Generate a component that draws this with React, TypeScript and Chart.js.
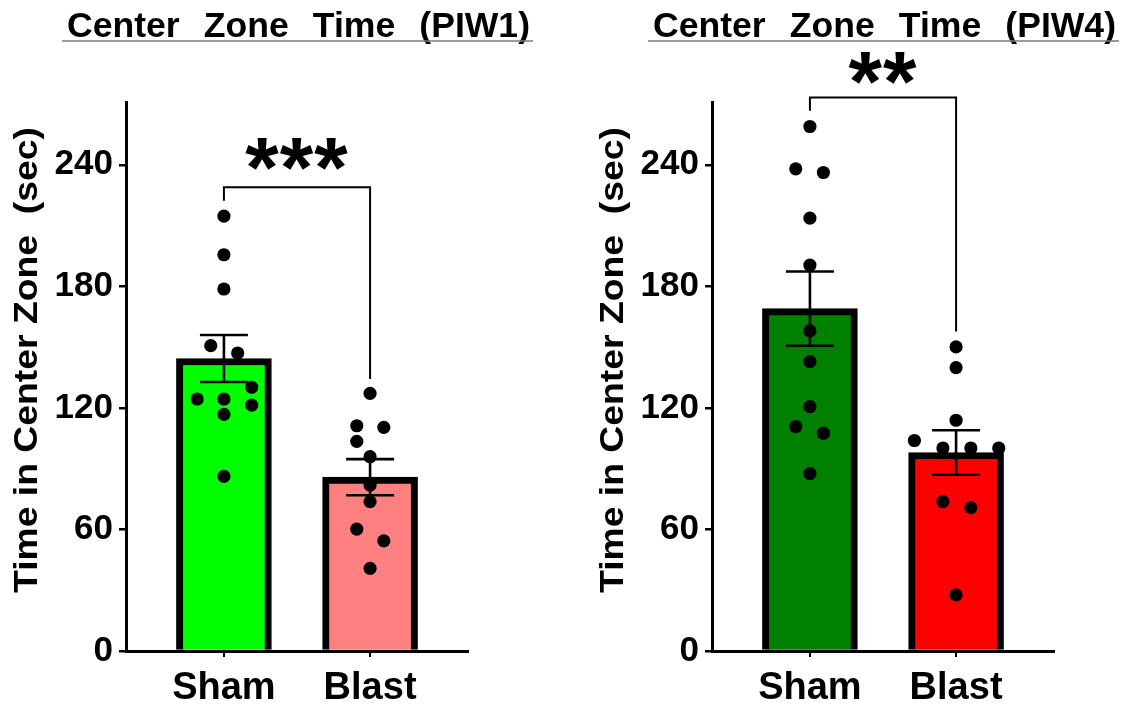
import { useEffect, useRef } from 'react';
import { Chart, registerables } from 'chart.js';

Chart.register(...registerables);

const FONT = '"Liberation Sans", Arial, Helvetica, sans-serif';

// ---------- data ----------
const categories = ['Sham', 'Blast'];
const yTicks = [0, 60, 120, 180, 240];
const yMax = 271;
const yTitle = 'Time in Center Zone  (sec)';

// PIW1
const piw1Title = 'Center Zone Time (PIW1)';
const piw1Means = [144.4, 85.8];
const piw1Sems = [11.6, 8.9];
const piw1ShamValues = [214.7, 195.6, 178.7, 150.7, 147.1, 130.2, 124.4, 124.4, 121.4, 116.8, 86.2];
const piw1ShamJitter = [0, 0, 0, -0.09, 0.094, 0.19, -0.183, 0, 0.19, 0, 0];
const piw1BlastValues = [127.2, 111.2, 110.4, 103.5, 95.9, 81.9, 73.7, 60.2, 54.4, 40.8];
const piw1BlastJitter = [0, -0.091, 0.094, -0.091, 0, 0, 0, -0.091, 0.094, 0];
const piw1Colors = ['#00FF00', '#FF8080'];
const piw1Stars = '***';
const piw1BracketTop = 228.9;
const piw1BracketEnds = [222.3, 134.3];
const piw1StarsY = 245.2;

// PIW4
const piw4Title = 'Center Zone Time (PIW4)';
const piw4Means = [169.0, 98.0];
const piw4Sems = [18.3, 11.0];
const piw4ShamValues = [258.9, 238.0, 236.2, 213.7, 190.5, 158.0, 142.9, 120.6, 110.8, 107.5, 87.6];
const piw4ShamJitter = [0, -0.097, 0.092, 0, 0, 0, 0, 0, -0.097, 0.092, 0];
const piw4BlastValues = [150.1, 139.9, 113.9, 103.9, 100.2, 100.2, 100.2, 73.7, 70.8, 27.7];
const piw4BlastJitter = [0, 0, 0, -0.285, -0.09, 0.101, 0.292, -0.09, 0.101, 0];
const piw4Colors = ['#008000', '#FF0000'];
const piw4Stars = '**';
const piw4BracketTop = 273.2;
const piw4BracketEnds = [266.7, 157.7];
const piw4StarsY = 288.0;

// ---------- layout ----------
const CW = 545;
const CH = 707;
const AREA_LEFT = 126;
const AREA_RIGHT = 468;
const AREA_TOP = 102;
const AREA_BOTTOM = 651;
const X_AXIS_H = 20;

type PanelProps = {
  left: number;
  title: string;
  means: number[];
  sems: number[];
  groups: number[][];
  jitters: number[][];
  colors: string[];
  stars: string;
  starsY: number;
  bracketTop: number;
  bracketEnds: number[];
};

function fitScale(
  ctx: CanvasRenderingContext2D,
  text: string,
  font: string,
  targetW: number,
  wordSpacing: string,
) {
  ctx.font = font;
  try {
    (ctx as any).wordSpacing = wordSpacing;
  } catch (e) {
    /* ignore */
  }
  const w = ctx.measureText(text).width;
  return targetW / w;
}

function Panel(props: PanelProps) {
  const ref = useRef<HTMLCanvasElement | null>(null);

  useEffect(() => {
    const canvas = ref.current;
    if (!canvas) return;
    const { title, means, sems, groups, jitters, colors, stars, starsY, bracketTop, bracketEnds } = props;

    const points: { x: number; y: number }[] = [];
    groups.forEach((vals, gi) => {
      vals.forEach((v, i) => points.push({ x: gi + jitters[gi][i], y: v }));
    });

    const decor = {
      id: 'decor',
      afterDatasetsDraw(chart: any) {
        const ctx: CanvasRenderingContext2D = chart.ctx;
        const xs = chart.scales.x;
        const ys = chart.scales.y;
        ctx.save();
        // error bars
        ctx.strokeStyle = '#000';
        ctx.lineWidth = 2.6;
        ctx.lineCap = 'butt';
        means.forEach((m, i) => {
          const x = xs.getPixelForValue(i);
          const yt = ys.getPixelForValue(m + sems[i]);
          const yb = ys.getPixelForValue(m - sems[i]);
          ctx.beginPath();
          ctx.moveTo(x, yt);
          ctx.lineTo(x, yb);
          ctx.moveTo(x - 24, yt);
          ctx.lineTo(x + 24, yt);
          ctx.moveTo(x - 24, yb);
          ctx.lineTo(x + 24, yb);
          ctx.stroke();
        });
        // significance bracket
        const x0 = xs.getPixelForValue(0);
        const x1 = xs.getPixelForValue(1);
        const yTop = ys.getPixelForValue(bracketTop);
        ctx.lineWidth = 2;
        ctx.lineJoin = 'miter';
        ctx.beginPath();
        ctx.moveTo(x0, ys.getPixelForValue(bracketEnds[0]));
        ctx.lineTo(x0, yTop);
        ctx.lineTo(x1, yTop);
        ctx.lineTo(x1, ys.getPixelForValue(bracketEnds[1]));
        ctx.stroke();
        ctx.restore();
      },
      afterDraw(chart: any) {
        const ctx: CanvasRenderingContext2D = chart.ctx;
        const xs = chart.scales.x;
        const ys = chart.scales.y;

        // title
        ctx.save();
        ctx.fillStyle = '#000';
        ctx.textAlign = 'left';
        ctx.textBaseline = 'alphabetic';
        const tScale = fitScale(ctx, title, `bold 35px ${FONT}`, 463, '14px');
        ctx.translate(67, 37);
        ctx.scale(tScale, 1);
        ctx.fillText(title, 0, 0);
        ctx.restore();

        // title underline
        ctx.save();
        ctx.strokeStyle = '#7a7a7a';
        ctx.lineWidth = 1.4;
        ctx.beginPath();
        ctx.moveTo(62, 41);
        ctx.lineTo(533, 41);
        ctx.stroke();
        ctx.restore();

        // y axis title
        ctx.save();
        ctx.fillStyle = '#000';
        ctx.textAlign = 'center';
        ctx.textBaseline = 'alphabetic';
        const yScale = fitScale(ctx, yTitle, `bold 34px ${FONT}`, 466, '0px');
        ctx.translate(36.7, 360);
        ctx.rotate(-Math.PI / 2);
        ctx.scale(yScale, 1);
        ctx.fillText(yTitle, 0, 0);
        ctx.restore();

        // x category labels
        ctx.save();
        ctx.fillStyle = '#000';
        ctx.font = `bold 38px ${FONT}`;
        ctx.textAlign = 'center';
        ctx.textBaseline = 'alphabetic';
        categories.forEach((c, i) => {
          ctx.fillText(c, xs.getPixelForValue(i), 699);
        });
        ctx.restore();

        // stars
        ctx.save();
        ctx.fillStyle = '#000';
        ctx.font = `bold 86px ${FONT}`;
        try {
          (ctx as any).letterSpacing = '1px';
        } catch (e) {
          /* ignore */
        }
        ctx.textAlign = 'center';
        ctx.textBaseline = 'alphabetic';
        const m = ctx.measureText(stars);
        const A = m.actualBoundingBoxAscent;
        const D = m.actualBoundingBoxDescent;
        const cy = ys.getPixelForValue(starsY);
        const cx = (xs.getPixelForValue(0) + xs.getPixelForValue(1)) / 2;
        ctx.fillText(stars, cx, cy + (A - D) / 2);
        ctx.restore();
      },
    };

    const chart = new Chart(canvas, {
      type: 'bar',
      data: {
        datasets: [
          {
            type: 'scatter',
            data: points,
            backgroundColor: '#000',
            borderColor: '#000',
            pointBackgroundColor: '#000',
            pointBorderWidth: 0,
            pointRadius: 6.6,
            pointHoverRadius: 6.6,
            order: 1,
          } as any,
          {
            type: 'bar',
            data: means.map((m, i) => ({ x: i, y: m })),
            backgroundColor: colors,
            borderColor: '#000',
            borderWidth: 7,
            borderSkipped: 'start',
            barThickness: 95,
            order: 2,
          } as any,
        ],
      },
      options: {
        responsive: false,
        animation: false,
        devicePixelRatio: 1,
        events: [],
        layout: {
          padding: {
            left: 0,
            top: AREA_TOP,
            right: CW - AREA_RIGHT,
            bottom: CH - AREA_BOTTOM - X_AXIS_H,
          },
        },
        plugins: {
          legend: { display: false },
          tooltip: { enabled: false },
          title: { display: false },
        },
        scales: {
          x: {
            type: 'linear',
            offset: false,
            min: -0.67,
            max: 1.67,
            afterBuildTicks: (s: any) => {
              s.ticks = categories.map((_, i) => ({ value: i }));
            },
            afterFit: (s: any) => {
              s.height = X_AXIS_H;
            },
            ticks: { display: false },
            grid: {
              display: true,
              offset: false,
              drawOnChartArea: false,
              drawTicks: true,
              tickLength: 6,
              color: '#000',
              lineWidth: 2,
            },
            border: { display: true, color: '#000', width: 3, z: 1 },
          },
          y: {
            type: 'linear',
            min: 0,
            max: yMax,
            afterBuildTicks: (s: any) => {
              s.ticks = yTicks.map((v) => ({ value: v }));
            },
            afterFit: (s: any) => {
              s.width = AREA_LEFT;
            },
            ticks: {
              color: '#000',
              padding: 6,
              font: { family: FONT, size: 35, weight: 'bold' },
            },
            grid: {
              display: true,
              drawOnChartArea: false,
              drawTicks: true,
              tickLength: 7,
              color: '#000',
              lineWidth: 2.5,
            },
            border: { display: true, color: '#000', width: 3 },
          },
        },
      } as any,
      plugins: [decor as any],
    });

    return () => {
      chart.destroy();
    };
  }, []);

  return (
    <canvas
      ref={ref}
      width={CW}
      height={CH}
      style={{ position: 'absolute', left: props.left, top: 0, width: CW, height: CH }}
    />
  );
}

export default function App() {
  return (
    <div
      style={{
        position: 'absolute',
        left: 0,
        top: 0,
        width: 1131,
        height: 707,
        overflow: 'hidden',
        background: '#fff',
      }}
    >
      <Panel
        left={0}
        title={piw1Title}
        means={piw1Means}
        sems={piw1Sems}
        groups={[piw1ShamValues, piw1BlastValues]}
        jitters={[piw1ShamJitter, piw1BlastJitter]}
        colors={piw1Colors}
        stars={piw1Stars}
        starsY={piw1StarsY}
        bracketTop={piw1BracketTop}
        bracketEnds={piw1BracketEnds}
      />
      <Panel
        left={586}
        title={piw4Title}
        means={piw4Means}
        sems={piw4Sems}
        groups={[piw4ShamValues, piw4BlastValues]}
        jitters={[piw4ShamJitter, piw4BlastJitter]}
        colors={piw4Colors}
        stars={piw4Stars}
        starsY={piw4StarsY}
        bracketTop={piw4BracketTop}
        bracketEnds={piw4BracketEnds}
      />
    </div>
  );
}
